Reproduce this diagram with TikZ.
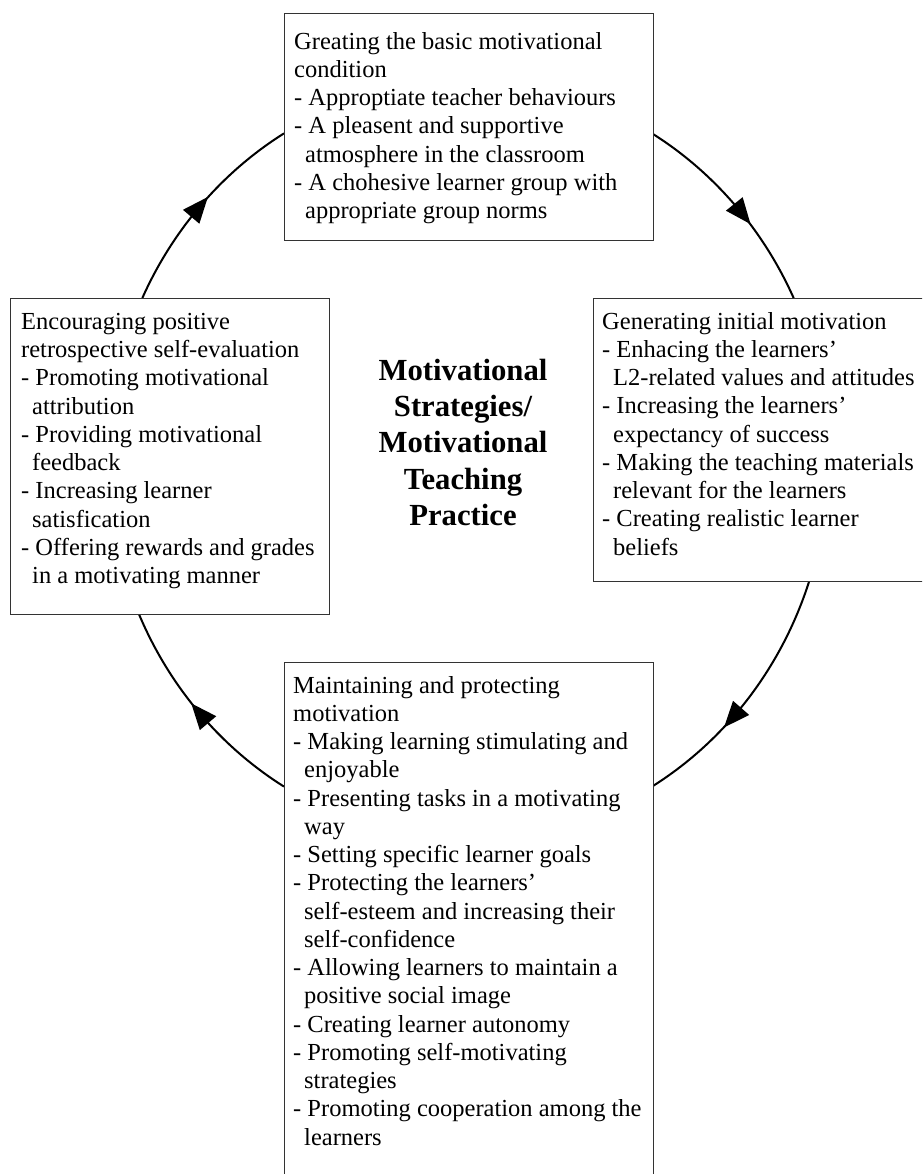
\documentclass[tikz,border=0pt]{standalone}
\usepackage{fontspec}
\setmainfont{Liberation Serif}
\usetikzlibrary{arrows.meta,decorations.markings,calc}
\newcommand\ind{\hspace*{11pt}}
\begin{document}
\begin{tikzpicture}[x=1pt,y=1pt,
  box/.style={draw=black!80, line width=1.2pt, fill=white, inner sep=0pt, anchor=north west},
  boxtext/.style={anchor=north west, inner sep=0pt, align=left, font=\fontsize{24.5}{28.25}\selectfont},
  titletext/.style={anchor=north, inner sep=0pt, align=center, font=\fontsize{30.7}{36.3}\selectfont\bfseries},
  cycarc/.style={line width=2pt, postaction={decorate},
    decoration={markings, mark=at position #1 with {\pgftransformxshift{13pt}\arrow{Triangle[length=26pt,width=21pt]}}}}
]
\useasboundingbox (0,0) rectangle (922,1174);
\clip (0,0) rectangle (922,1174);
\fill[white] (0,0) rectangle (922,1174);

\coordinate (ctr) at (468,714);
% arc end points on the box borders
\coordinate (a1) at ($(ctr)+(154.77:360pt and 380pt)$);
\coordinate (a2) at ($(ctr)+(59.08:360pt and 380pt)$);
\coordinate (a3) at ($(ctr)+(-18.57:360pt and 380pt)$);
\coordinate (a4) at ($(ctr)+(239.26:360pt and 380pt)$);

\draw[cycarc=0.49] (a1) arc[start angle=154.77, end angle=120.74, x radius=360pt, y radius=380pt];
\draw[cycarc=0.55] (a2) arc[start angle=59.08, end angle=25.23, x radius=360pt, y radius=380pt];
\draw[cycarc=0.6] (a3) arc[start angle=-18.57, end angle=-59.08, x radius=360pt, y radius=380pt];
\draw[cycarc=0.49] (a4) arc[start angle=239.26, end angle=203.91, x radius=360pt, y radius=380pt];

\node[box, minimum width=369pt, minimum height=227pt] (tbox) at (284,1161) {};
\node[box, minimum width=319pt, minimum height=316pt] (lbox) at (10,876) {};
\node[box, minimum width=345pt, minimum height=283pt] (rbox) at (593,876) {};
\node[box, minimum width=369pt, minimum height=540pt] (bbox) at (284,512) {};

\node[boxtext] (ttext) at (294,1144.8) {\strut Greating the basic motivational\\
condition\\
- Approptiate teacher behaviours\\
- A pleasent and supportive\\
\ind atmosphere in the classroom\\
- A chohesive learner group with\\
\ind appropriate group norms};

\node[boxtext] (ltext) at (21,864.5) {\strut Encouraging positive\\
retrospective self-evaluation\\
- Promoting motivational\\
\ind attribution\\
- Providing motivational\\
\ind feedback\\
- Increasing learner\\
\ind satisfication\\
- Offering rewards and grades\\
\ind in a motivating manner};

\node[boxtext] (rtext) at (602,864.8) {\strut Generating initial motivation\\
- Enhacing the learners’\\
\ind L2-related values and attitudes\\
- Increasing the learners’\\
\ind expectancy of success\\
- Making the teaching materials\\
\ind relevant for the learners\\
- Creating realistic learner\\
\ind beliefs};

\node[boxtext] (btext) at (293,500.8) {\strut Maintaining and protecting\\
motivation\\
- Making learning stimulating and\\
\ind enjoyable\\
- Presenting tasks in a motivating\\
\ind way\\
- Setting specific learner goals\\
- Protecting the learners’\\
\ind self-esteem and increasing their\\
\ind self-confidence\\
- Allowing learners to maintain a\\
\ind positive social image\\
- Creating learner autonomy\\
- Promoting self-motivating\\
\ind strategies\\
- Promoting cooperation among the\\
\ind learners};

\node[titletext] (title) at (463,819.4) {\strut Motivational\\Strategies/\\Motivational\\Teaching\\Practice};
\end{tikzpicture}
\end{document}
